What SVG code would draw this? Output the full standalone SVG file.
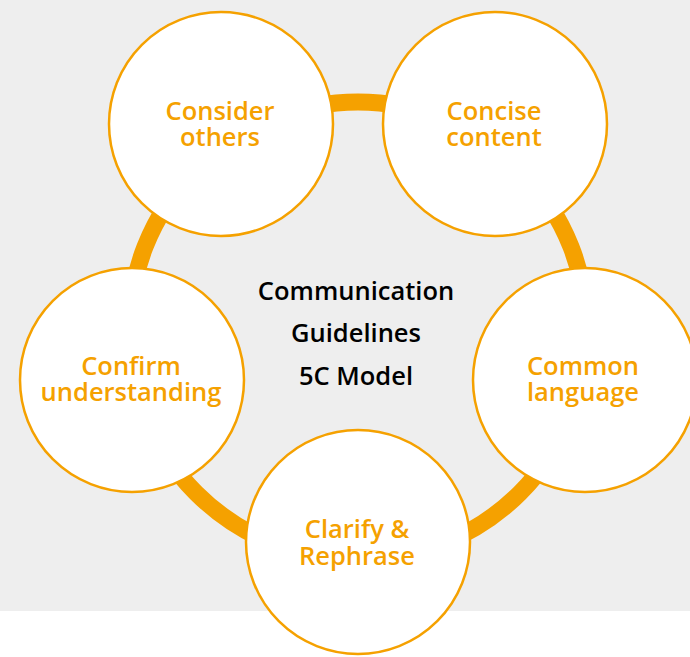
<svg xmlns="http://www.w3.org/2000/svg" width="690" height="657" viewBox="0 0 690 657">
  <style>
    .node circle { fill: #ffffff; stroke: #f5a100; stroke-width: 2.5; }
    .label { font-family: "Open Sans", "Noto Sans", sans-serif; font-weight: 600; font-size: 25.5px; fill: #f5a100; text-anchor: middle; }
    .title { font-family: "Open Sans", "Noto Sans", sans-serif; font-weight: 600; font-size: 25.5px; fill: #000000; text-anchor: middle; }
  </style>
  <rect x="0" y="0" width="690" height="657" fill="#ffffff"/>
  <rect x="0" y="0" width="690" height="611" fill="#eeeeee"/>
  <g id="connectors">
    <circle cx="358" cy="331" r="229" fill="none" stroke="#f5a100" stroke-width="17"/>
  </g>
  <g id="center-title">
    <text class="title" x="356" y="300">Communication</text>
    <text class="title" x="356" y="342">Guidelines</text>
    <text class="title" x="356" y="385">5C Model</text>
  </g>
  <g id="node-consider" class="node">
    <circle cx="221" cy="124" r="112"/>
    <text class="label" x="220" y="120">Consider<tspan x="220" dy="26">others</tspan></text>
  </g>
  <g id="node-concise" class="node">
    <circle cx="495" cy="124" r="112"/>
    <text class="label" x="494" y="120">Concise<tspan x="494" dy="26">content</tspan></text>
  </g>
  <g id="node-common" class="node">
    <circle cx="585" cy="380" r="112"/>
    <text class="label" x="583" y="375">Common<tspan x="583" dy="26">language</tspan></text>
  </g>
  <g id="node-clarify" class="node">
    <circle cx="358" cy="542" r="112"/>
    <text class="label" x="357" y="538">Clarify &amp;<tspan x="357" dy="27">Rephrase</tspan></text>
  </g>
  <g id="node-confirm" class="node">
    <circle cx="132" cy="380" r="112"/>
    <text class="label" x="131" y="375">Confirm<tspan x="131" dy="26">understanding</tspan></text>
  </g>
</svg>
